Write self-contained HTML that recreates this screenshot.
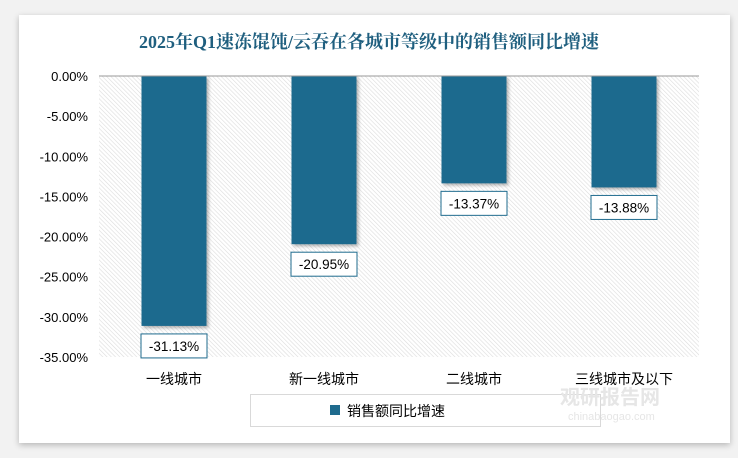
<!DOCTYPE html>
<html><head><meta charset="utf-8"><style>
body{margin:0;width:738px;height:458px;background:#f2f2f2;overflow:hidden;font-family:"Liberation Sans","Noto Sans CJK SC",sans-serif}
#panel{position:absolute;left:19px;top:15px;width:711px;height:428px;background:#fff;box-shadow:0 2px 6px rgba(0,0,0,.25)}
</style></head><body>
<div id="panel"></div>
<svg id="c" width="738" height="458" style="position:absolute;left:0;top:0">
<defs><pattern id="hatch" width="3" height="3" patternUnits="userSpaceOnUse" patternTransform="rotate(-45)"><rect width="3" height="3" fill="#fff"/><line x1="0" y1="0" x2="0" y2="3" stroke="#dcdcdc" stroke-width="1.2"/></pattern>
<filter id="sh"><feDropShadow dx="2" dy="2" stdDeviation="1.5" flood-color="#000" flood-opacity="0.3"/></filter></defs>
<text x="369" y="48" text-anchor="middle" font-family="'Liberation Serif','Noto Serif CJK SC',serif" font-size="18" font-weight="bold" fill="#1f5f7f">2025年Q1速冻馄饨/云吞在各城市等级中的销售额同比增速</text>
</svg>
<script>
const categories=["一线城市","新一线城市","二线城市","三线城市及以下"];
const values=[-31.13,-20.95,-13.37,-13.88];
const ticks=[0,-5,-10,-15,-20,-25,-30,-35];
const svg=document.getElementById('c');const NS='http://www.w3.org/2000/svg';
const X0=99,X1=699,Y0=76,Y1=357;
const y=v=>Y0+(0-v)/35*(Y1-Y0);
const band=(X1-X0)/categories.length;
const xc=i=>X0+band*(i+0.5);
function el(t,a,p){const e=document.createElementNS(NS,t);for(const k in a)e.setAttribute(k,a[k]);(p||svg).appendChild(e);return e;}
const bg=el('rect',{x:X0,y:Y0,width:X1-X0,height:Y1-Y0,fill:'url(#hatch)'});


ticks.forEach(t=>{const tx=el('text',{x:88,y:y(t)+5,'text-anchor':'end','font-size':13,fill:'#000'});tx.textContent=t.toFixed(2)+'%';

});
values.forEach((v,i)=>{
const b=el('rect',{x:xc(i)-32.5,y:y(0),width:65,height:y(v)-y(0),fill:'#1f6b8e',filter:'url(#sh)'});


const ly=y(v)+8;
const lb=el('rect',{x:xc(i)-33,y:ly,width:66,height:24,fill:'#fff',stroke:'#1f6b8e','stroke-width':1});


const lt=el('text',{x:xc(i),y:ly+17,'text-anchor':'middle','font-size':13.5,fill:'#000'});lt.textContent=v.toFixed(2)+'%';


const ct=el('text',{x:xc(i),y:384,'text-anchor':'middle','font-size':14,fill:'#000'});ct.textContent=categories[i];


});
const ax=el('line',{x1:X0,y1:Y0,x2:X1,y2:Y0,stroke:'#999','stroke-width':1});


const lg=el('rect',{x:250.5,y:394.5,width:350,height:32,fill:'#fff',stroke:'#d9d9d9'});


const sw=el('rect',{x:330,y:405,width:10,height:10,fill:'#1f6b8e'});


const lgt=el('text',{x:347,y:416,'font-size':14,fill:'#000'});lgt.textContent='销售额同比增速';


const wm=el('text',{x:560,y:404,'font-size':20,'font-weight':'bold',fill:'#e6e6e6'});wm.textContent='观研报告网';


const wm2=el('text',{x:568,y:420,'font-size':11,fill:'#e6e6e6'});wm2.textContent='chinabaogao.com';


</script>
</body></html>
